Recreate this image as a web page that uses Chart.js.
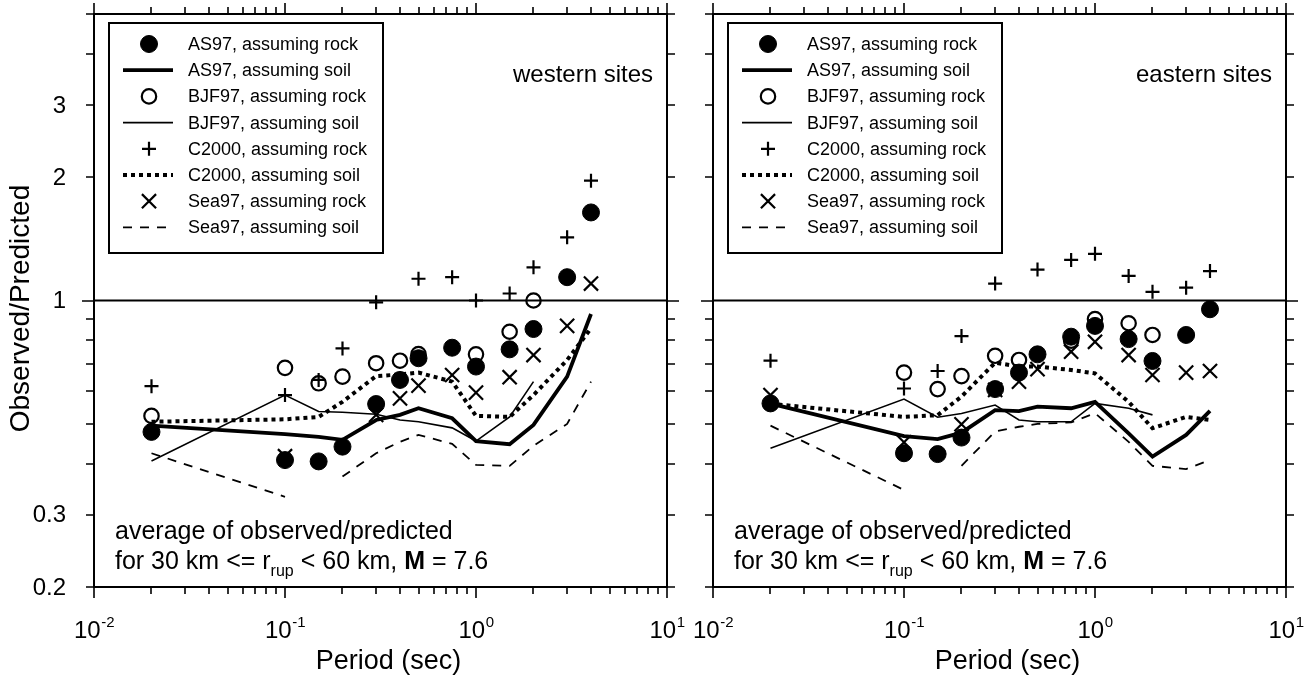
<!DOCTYPE html>
<html>
<head>
<meta charset="utf-8">
<script src="https://cdn.jsdelivr.net/npm/chart.js@4/dist/chart.umd.min.js"></script>
<style>
  html, body { margin: 0; padding: 0; background: #fff; }
  #wrap { position: relative; width: 1316px; height: 681px; overflow: hidden; background: #fff; }
  #wrap canvas { position: absolute; top: 0; }
</style>
</head>
<body>
<div id="wrap">
  <canvas id="west" width="700" height="681" style="left:0px;width:700px;height:681px"></canvas>
  <canvas id="east" width="636" height="681" style="left:680px;width:636px;height:681px"></canvas>
</div>
<script>
// Spectral periods (sec) shared by every series
const periods = [0.02, 0.1, 0.15, 0.2, 0.3, 0.4, 0.5, 0.75, 1, 1.5, 2, 3, 4];

// Western sites: average observed/predicted ratios
const westAS97Rock  = [0.478, 0.408, 0.405, 0.440, 0.559, 0.640, 0.723, 0.767, 0.690, 0.760, 0.852, 1.140, 1.640];
const westAS97Soil  = [0.495, 0.472, 0.465, 0.457, 0.511, 0.526, 0.546, 0.516, 0.454, 0.446, 0.497, 0.652, 0.927];
const westBJF97Rock = [0.523, 0.685, 0.628, 0.652, 0.703, 0.713, 0.740, null, 0.739, 0.839, 1.000, null, null];
const westBJF97Soil = [0.406, 0.588, 0.536, 0.534, 0.528, 0.511, 0.506, 0.489, 0.454, 0.520, 0.634, null, null];
const westC2000Rock = [0.618, 0.588, 0.640, 0.764, 0.990, null, 1.130, 1.140, 1.000, 1.040, 1.205, 1.426, 1.960];
const westC2000Soil = [0.506, 0.513, 0.520, 0.566, 0.654, 0.660, 0.667, 0.634, 0.523, 0.520, 0.588, 0.716, 0.855];
const westSea97Rock = [null, 0.417, null, null, 0.526, 0.577, 0.620, 0.658, 0.596, 0.650, 0.736, 0.867, 1.100];
const westSea97Soil = [0.424, 0.332, null, 0.372, 0.424, 0.452, 0.470, 0.447, 0.397, 0.395, 0.442, 0.500, 0.634];

// Eastern sites: average observed/predicted ratios
const eastAS97Rock  = [0.561, 0.424, 0.422, 0.463, 0.608, 0.667, 0.739, 0.816, 0.867, 0.805, 0.712, 0.824, 0.952];
const eastAS97Soil  = [0.560, 0.467, 0.459, 0.476, 0.540, 0.537, 0.551, 0.546, 0.566, 0.474, 0.416, 0.470, 0.538];
const eastBJF97Rock = [null, 0.667, 0.608, 0.654, 0.733, 0.716, null, 0.798, 0.901, 0.880, 0.824, null, null];
const eastBJF97Soil = [0.436, 0.575, 0.519, 0.530, 0.556, 0.511, 0.506, 0.506, 0.561, 0.546, 0.526, null, null];
const eastC2000Rock = [0.713, 0.610, 0.673, 0.819, 1.100, null, 1.190, 1.256, 1.300, 1.148, 1.050, 1.075, 1.180];
const eastC2000Soil = [0.560, 0.520, 0.525, 0.583, 0.705, 0.690, 0.690, 0.677, 0.664, 0.566, 0.488, 0.520, 0.511];
const eastSea97Rock = [0.588, 0.451, null, 0.499, 0.605, 0.634, 0.680, 0.750, 0.793, 0.736, 0.658, 0.667, 0.673];
const eastSea97Soil = [0.495, 0.345, null, 0.395, 0.479, 0.492, 0.500, 0.504, 0.531, 0.452, 0.395, 0.388, 0.408];

// Legend / series names
const seriesNames = [
  'AS97, assuming rock', 'AS97, assuming soil',
  'BJF97, assuming rock', 'BJF97, assuming soil',
  'C2000, assuming rock', 'C2000, assuming soil',
  'Sea97, assuming rock', 'Sea97, assuming soil'
];

// Axis ticks
const xDecades = [0.01, 0.1, 1, 10];
const xDecadeExponents = ['-2', '-1', '0', '1'];
const yTickValues = [0.2, 0.3, 0.4, 0.5, 0.6, 0.7, 0.8, 0.9, 1, 2, 3, 4, 5];
const yLabelValues = [0.2, 0.3, 1, 2, 3];
const yLabelTexts = ['0.2', '0.3', '1', '2', '3'];
const referenceRatio = 1;

const FONT = '"Liberation Sans", Arial, Helvetica, sans-serif';

// Marker / line styles, one per series
const seriesStyles = [
  { kind: 'point', pointStyle: 'circle',   radius: 8.5, fill: '#000', borderWidth: 1 },
  { kind: 'line',  width: 3.8, dash: [] },
  { kind: 'point', pointStyle: 'circle',   radius: 7.2, fill: 'rgba(0,0,0,0)', borderWidth: 2.2 },
  { kind: 'line',  width: 1.6, dash: [] },
  { kind: 'point', pointStyle: 'cross',    radius: 7,   fill: 'rgba(0,0,0,0)', borderWidth: 2.2 },
  { kind: 'line',  width: 4,   dash: [4, 4] },
  { kind: 'point', pointStyle: 'crossRot', radius: 10,  fill: 'rgba(0,0,0,0)', borderWidth: 2.2 },
  { kind: 'line',  width: 1.8, dash: [9, 8] }
];

function toXY(values) {
  return periods.map((p, i) => ({ x: p, y: values[i] === null ? null : values[i] }));
}

function buildDatasets(seriesValues) {
  const sets = seriesValues.map((vals, i) => {
    const s = seriesStyles[i];
    if (s.kind === 'point') {
      return {
        label: seriesNames[i], data: toXY(vals), showLine: false,
        pointStyle: s.pointStyle, pointRadius: s.radius, pointHoverRadius: s.radius,
        pointBorderWidth: s.borderWidth, pointBorderColor: '#000', pointBackgroundColor: s.fill
      };
    }
    return {
      label: seriesNames[i], data: toXY(vals), showLine: true, spanGaps: false,
      borderColor: '#000', borderWidth: s.width, borderDash: s.dash, borderCapStyle: 'butt',
      borderJoinStyle: 'miter', tension: 0, pointRadius: 0, pointHoverRadius: 0, fill: false
    };
  });
  // horizontal reference line at ratio 1
  sets.push({
    label: 'reference', data: [{ x: 0.01, y: referenceRatio }, { x: 10, y: referenceRatio }],
    showLine: true, borderColor: '#000', borderWidth: 2, pointRadius: 0, pointHoverRadius: 0, fill: false
  });
  return sets;
}

function drawPowerLabel(ctx, x, baseline, exp) {
  ctx.font = '24px ' + FONT;
  const wb = ctx.measureText('10').width;
  ctx.font = '15px ' + FONT;
  const we = ctx.measureText(exp).width;
  const x0 = x - (wb + we) / 2;
  ctx.textAlign = 'left';
  ctx.textBaseline = 'alphabetic';
  ctx.font = '24px ' + FONT;
  ctx.fillText('10', x0, baseline);
  ctx.font = '15px ' + FONT;
  ctx.fillText(exp, x0 + wb + 0.5, baseline - 11);
}

// Frame, ticks, tick labels, titles, legend box and note text
const panelDecor = {
  id: 'panelDecor',
  afterDatasetsDraw(chart, args, opts) {
    const { ctx, chartArea: a } = chart;
    const xs = chart.scales.x, ys = chart.scales.y;
    ctx.save();
    ctx.fillStyle = '#000';
    ctx.strokeStyle = '#000';
    ctx.setLineDash([]);

    // frame
    ctx.lineWidth = 2;
    ctx.strokeRect(a.left, a.top, a.right - a.left, a.bottom - a.top);

    // x ticks (bottom and top, outward)
    ctx.lineWidth = 1.6;
    ctx.beginPath();
    for (let d = 0; d < xDecades.length; d++) {
      const dec = xDecades[d];
      const px = Math.round(xs.getPixelForValue(dec));
      ctx.moveTo(px, a.bottom); ctx.lineTo(px, a.bottom + 11);
      ctx.moveTo(px, a.top); ctx.lineTo(px, a.top - 11);
      if (d < xDecades.length - 1) {
        for (let m = 2; m <= 9; m++) {
          const mx = Math.round(xs.getPixelForValue(dec * m));
          ctx.moveTo(mx, a.bottom); ctx.lineTo(mx, a.bottom + 7);
          ctx.moveTo(mx, a.top); ctx.lineTo(mx, a.top - 7);
        }
      }
    }
    // y ticks (left and right, outward)
    yTickValues.forEach(v => {
      const py = Math.round(ys.getPixelForValue(v));
      const len = v === referenceRatio ? 12 : 8;
      ctx.moveTo(a.left, py); ctx.lineTo(a.left - len, py);
      ctx.moveTo(a.right, py); ctx.lineTo(a.right + len, py);
    });
    ctx.stroke();

    // x tick labels
    ctx.fillStyle = '#000';
    xDecades.forEach((dec, i) => {
      drawPowerLabel(ctx, xs.getPixelForValue(dec), 638, xDecadeExponents[i]);
    });

    // y tick labels
    if (opts.yLabels) {
      ctx.font = '24px ' + FONT;
      ctx.textAlign = 'right';
      ctx.textBaseline = 'middle';
      yLabelValues.forEach((v, i) => {
        ctx.fillText(yLabelTexts[i], a.left - 28, ys.getPixelForValue(v) + 1);
      });
      // y axis title
      ctx.save();
      ctx.translate(21, (a.top + a.bottom) / 2 + 8);
      ctx.rotate(-Math.PI / 2);
      ctx.font = '28px ' + FONT;
      ctx.textAlign = 'center';
      ctx.textBaseline = 'middle';
      ctx.fillText('Observed/Predicted', 0, 0);
      ctx.restore();
    }

    // x axis title
    ctx.font = '27px ' + FONT;
    ctx.textAlign = 'center';
    ctx.textBaseline = 'middle';
    ctx.fillText('Period (sec)', (a.left + a.right) / 2 + 8, 662);

    // panel title
    ctx.font = '24px ' + FONT;
    ctx.textAlign = 'right';
    ctx.textBaseline = 'middle';
    ctx.fillText(opts.title, a.right - 14, 75);

    // legend
    const bx = a.left + 15, by = 23, bw = 274, bh = 230;
    ctx.fillStyle = '#fff';
    ctx.fillRect(bx, by, bw, bh);
    ctx.lineWidth = 2;
    ctx.strokeStyle = '#000';
    ctx.strokeRect(bx, by, bw, bh);
    seriesNames.forEach((name, i) => {
      const ry = by + 21 + i * 26.2;
      const s = seriesStyles[i];
      ctx.save();
      if (s.kind === 'point') {
        ctx.fillStyle = s.fill;
        ctx.strokeStyle = '#000';
        ctx.lineWidth = s.borderWidth;
        Chart.helpers.drawPoint(ctx, { pointStyle: s.pointStyle, radius: s.radius, borderWidth: s.borderWidth, rotation: 0 }, bx + 40, ry);
      } else {
        ctx.strokeStyle = '#000';
        ctx.lineWidth = s.width;
        ctx.lineCap = 'butt';
        ctx.setLineDash(s.dash);
        ctx.beginPath();
        ctx.moveTo(bx + 14, ry);
        ctx.lineTo(bx + 64, ry);
        ctx.stroke();
      }
      ctx.restore();
      ctx.fillStyle = '#000';
      ctx.font = '18px ' + FONT;
      ctx.textAlign = 'left';
      ctx.textBaseline = 'middle';
      ctx.fillText(name, bx + 79, ry + 1);
    });

    // note text
    const nx = a.left + 21;
    ctx.fillStyle = '#000';
    ctx.textAlign = 'left';
    ctx.textBaseline = 'alphabetic';
    ctx.font = '25px ' + FONT;
    ctx.fillText('average of observed/predicted', nx, 539);
    let cx = nx;
    const base2 = 569;
    const put = (txt, font, dy) => {
      ctx.font = font;
      ctx.fillText(txt, cx, base2 + (dy || 0));
      cx += ctx.measureText(txt).width;
    };
    put('for 30 km <= r', '25px ' + FONT);
    put('rup', '16px ' + FONT, 7);
    put(' < 60 km, ', '25px ' + FONT);
    put('M', 'bold 25px ' + FONT);
    put(' = 7.6', '25px ' + FONT);

    ctx.restore();
  }
};

function makePanel(canvasId, seriesValues, padding, title, yLabels) {
  return new Chart(document.getElementById(canvasId), {
    type: 'scatter',
    data: { datasets: buildDatasets(seriesValues) },
    options: {
      responsive: false,
      animation: false,
      devicePixelRatio: 1,
      layout: { padding },
      plugins: {
        legend: { display: false },
        tooltip: { enabled: false },
        panelDecor: { title, yLabels }
      },
      scales: {
        x: { type: 'logarithmic', min: 0.01, max: 10, display: false },
        y: { type: 'logarithmic', min: 0.2, max: 5, display: false }
      }
    },
    plugins: [panelDecor]
  });
}

makePanel('west',
  [westAS97Rock, westAS97Soil, westBJF97Rock, westBJF97Soil, westC2000Rock, westC2000Soil, westSea97Rock, westSea97Soil],
  { left: 94, top: 14, right: 33, bottom: 94 }, 'western sites', true);

makePanel('east',
  [eastAS97Rock, eastAS97Soil, eastBJF97Rock, eastBJF97Soil, eastC2000Rock, eastC2000Soil, eastSea97Rock, eastSea97Soil],
  { left: 33, top: 14, right: 30, bottom: 94 }, 'eastern sites', false);
</script>
</body>
</html>
